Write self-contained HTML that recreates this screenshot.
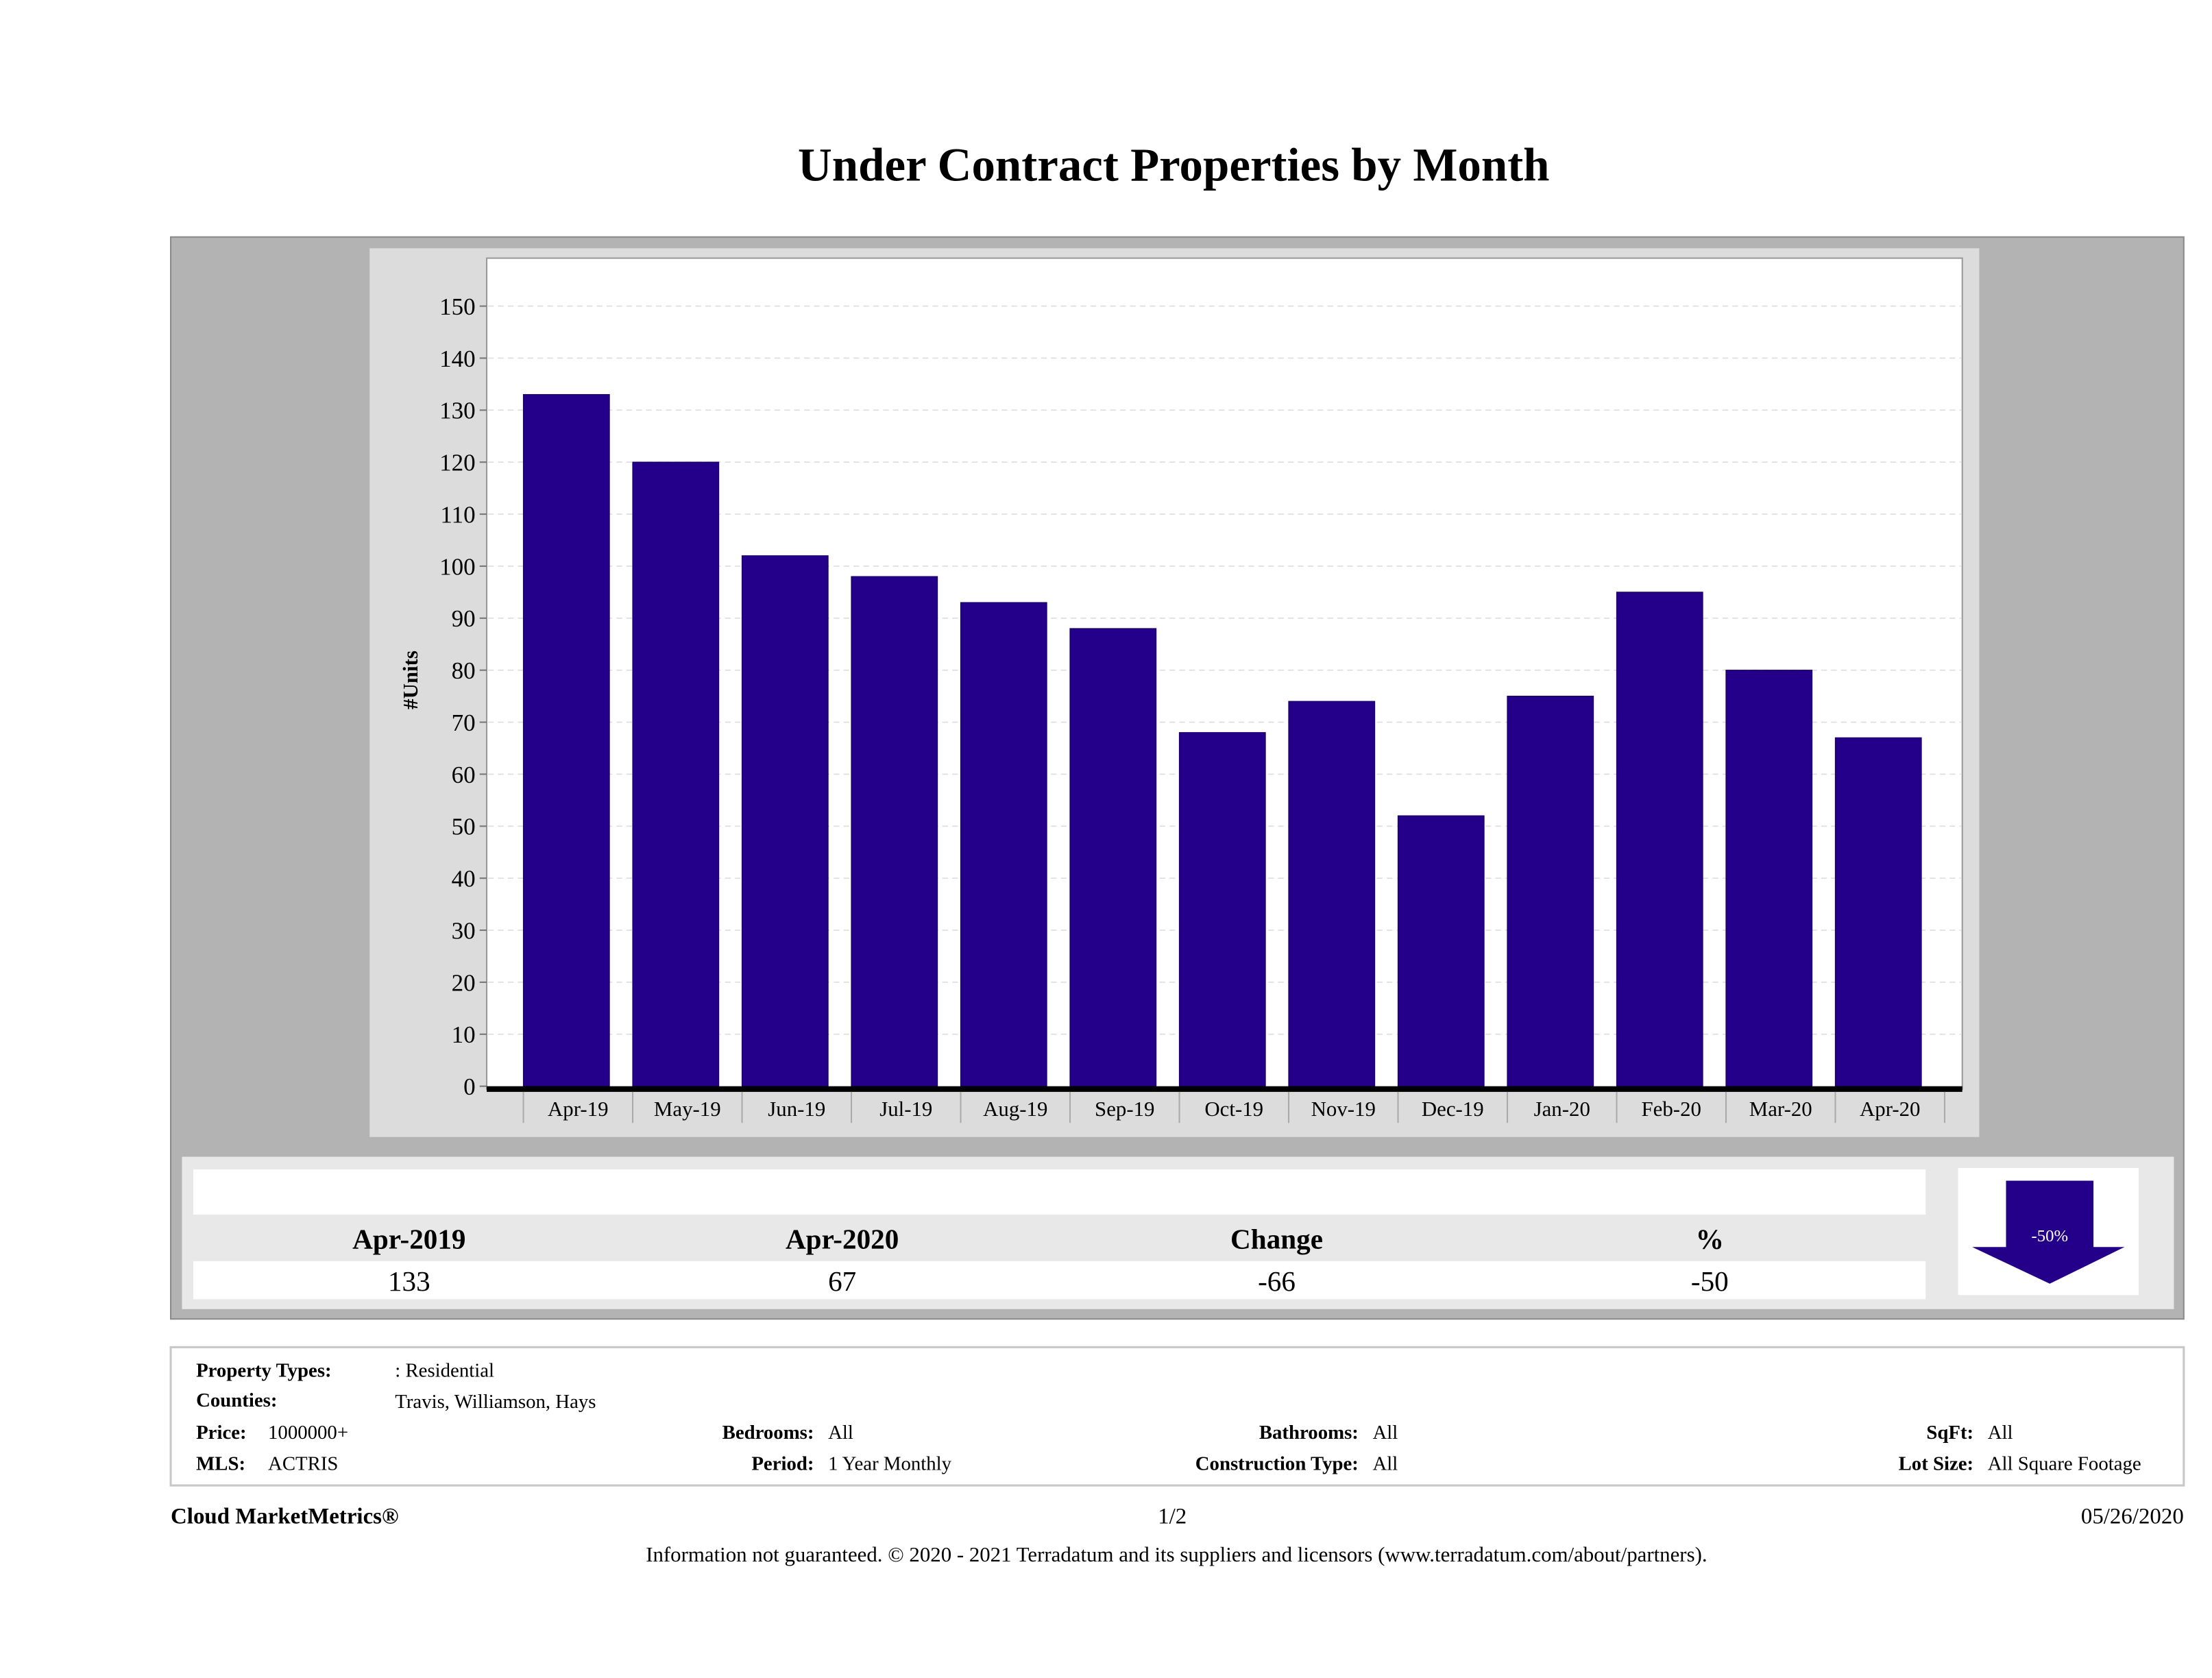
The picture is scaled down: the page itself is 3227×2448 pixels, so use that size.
<!DOCTYPE html>
<html><head><meta charset="utf-8"><style>
html,body{margin:0;padding:0;background:#fff;}
svg{display:block;font-family:"Liberation Serif",serif;}
</style></head><body>
<svg id="root" width="3227" height="2448" viewBox="0 0 1568 1189.5">
<text x="832" y="128" text-anchor="middle" font-size="33.5" font-weight="bold">Under Contract Properties by Month</text>
<rect x="121" y="168" width="1427" height="767" fill="#b3b3b3" stroke="#8a8a8a" stroke-width="1"/>
<rect x="262" y="176" width="1141" height="630" fill="#dcdcdc"/>
<rect x="345" y="183" width="1046" height="589" fill="#fff" stroke="#999" stroke-width="1"/>
<g id="grid"></g>
<g id="yticks"></g>
<g id="bars"></g>
<rect x="345" y="770" width="1046" height="4" fill="#000"/>
<g id="xticks"></g>
<text transform="translate(296,482) rotate(-90)" text-anchor="middle" font-size="15" font-weight="bold">#Units</text>

<rect x="129" y="820" width="1412" height="108" fill="#e8e8e8"/>
<rect x="137" y="829" width="1228" height="32" fill="#fff"/>
<rect x="137" y="894" width="1228" height="27" fill="#fff"/>
<g font-size="20" font-weight="bold" text-anchor="middle">
<text x="290" y="885">Apr-2019</text>
<text x="597" y="885">Apr-2020</text>
<text x="905" y="885">Change</text>
<text x="1212" y="885">%</text>
</g>
<g font-size="20" text-anchor="middle">
<text x="290" y="915">133</text>
<text x="597" y="915">67</text>
<text x="905" y="915">-66</text>
<text x="1212" y="915">-50</text>
</g>
<rect x="1388" y="828" width="128" height="90" fill="#fff"/>
<polygon points="1422,837 1484,837 1484,884 1506,884 1453,910 1398,884 1422,884" fill="#24008a"/>
<text x="1453" y="880" text-anchor="middle" font-size="12" fill="#fff">-50%</text>

<rect x="121" y="955" width="1427" height="98" fill="#fff" stroke="#c8c8c8" stroke-width="1.5"/>
<g font-size="14">
<text x="139" y="976" font-weight="bold">Property Types:</text><text x="280" y="976">: Residential</text>
<text x="139" y="997" font-weight="bold">Counties:</text><text x="280" y="998">Travis, Williamson, Hays</text>
<text x="139" y="1020" font-weight="bold">Price:</text><text x="190" y="1020">1000000+</text>
<text x="139" y="1042" font-weight="bold">MLS:</text><text x="190" y="1042">ACTRIS</text>
<text x="577" y="1020" font-weight="bold" text-anchor="end">Bedrooms:</text><text x="587" y="1020">All</text>
<text x="577" y="1042" font-weight="bold" text-anchor="end">Period:</text><text x="587" y="1042">1 Year Monthly</text>
<text x="963" y="1020" font-weight="bold" text-anchor="end">Bathrooms:</text><text x="973" y="1020">All</text>
<text x="963" y="1042" font-weight="bold" text-anchor="end">Construction Type:</text><text x="973" y="1042">All</text>
<text x="1399" y="1020" font-weight="bold" text-anchor="end">SqFt:</text><text x="1409" y="1020">All</text>
<text x="1399" y="1042" font-weight="bold" text-anchor="end">Lot Size:</text><text x="1409" y="1042">All Square Footage</text>
</g>
<text x="121" y="1080" font-size="16" font-weight="bold">Cloud MarketMetrics®</text>
<text x="831" y="1080" font-size="16" text-anchor="middle">1/2</text>
<text x="1548" y="1080" font-size="16" text-anchor="end">05/26/2020</text>
<text x="834" y="1107" font-size="15" text-anchor="middle">Information not guaranteed. © 2020 - 2021 Terradatum and its suppliers and licensors (www.terradatum.com/about/partners).</text>
</svg>
<script>
const categories = ["Apr-19","May-19","Jun-19","Jul-19","Aug-19","Sep-19","Oct-19","Nov-19","Dec-19","Jan-20","Feb-20","Mar-20","Apr-20"];
const units = [133,120,102,98,93,88,68,74,52,75,95,80,67];
const yTicks = [0,10,20,30,40,50,60,70,80,90,100,110,120,130,140,150];

const NS = "http://www.w3.org/2000/svg";
const y0 = 770, y150 = 217, yMax = 150;
function yScale(v){ return y0 - (v / yMax) * (y0 - y150); }
const bandStart = 371, bandW = 77.5, barW = 61;
function xBand(i){ return bandStart + i * bandW; }
function mk(tag, attrs, parent){ const e = document.createElementNS(NS, tag); for (const k in attrs) e.setAttribute(k, attrs[k]); parent.appendChild(e); return e; }

const grid = document.getElementById('grid'), yt = document.getElementById('yticks');
yTicks.forEach(t => {
  const y = yScale(t);
  if (t > 0) {
    const g = mk('line', {x1:346, x2:1390, y1:y, y2:y, stroke:'#ddd', 'stroke-width':0.8, 'stroke-dasharray':'4,3'}, grid);
    
    
  }
  const tk = mk('line', {x1:340, x2:345, y1:y, y2:y, stroke:'#777', 'stroke-width':1}, yt);
  
  
  const tx = mk('text', {x:337, y:y+6, 'text-anchor':'end', 'font-size':17}, yt);
  tx.textContent = t;
  
  
});

const bars = document.getElementById('bars'), xt = document.getElementById('xticks');
categories.forEach((c, i) => {
  const x = xBand(i), y = yScale(units[i]);
  const r = mk('rect', {x:x, y:y, width:barW, height:y0 - y, fill:'#24008a', stroke:'#1a0066', 'stroke-width':0.6}, bars);
  
  
  const s = mk('line', {x1:x, x2:x, y1:774, y2:796, stroke:'#aaa', 'stroke-width':1}, xt);
  
  
  const tx = mk('text', {x:x + bandW/2, y:791, 'text-anchor':'middle', 'font-size':15}, xt);
  tx.textContent = c;
  
  
});
const last = mk('line', {x1:xBand(categories.length), x2:xBand(categories.length), y1:774, y2:796, stroke:'#aaa', 'stroke-width':1}, xt);


</script>
</body></html>
